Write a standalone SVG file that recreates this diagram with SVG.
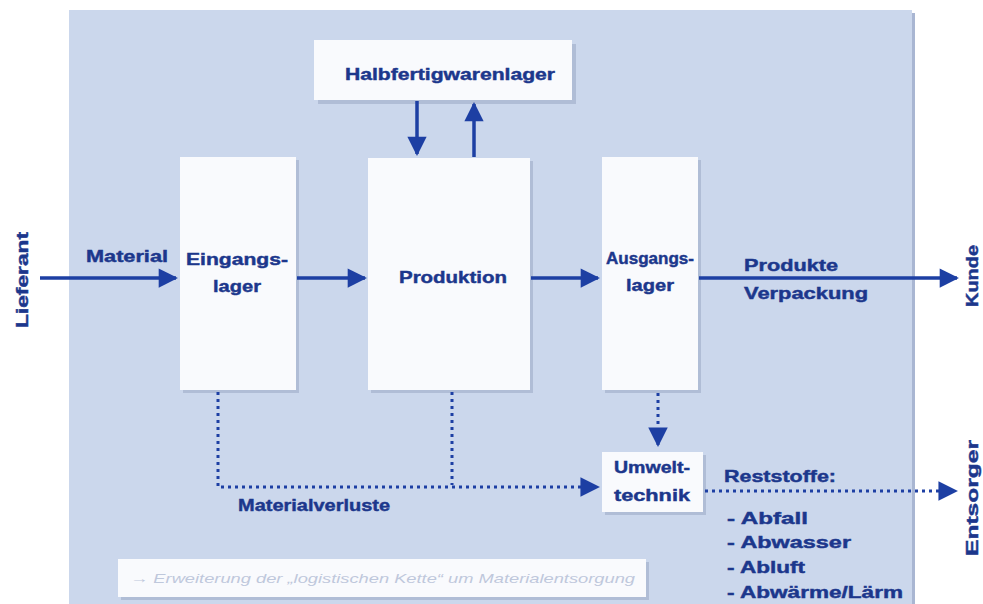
<svg xmlns="http://www.w3.org/2000/svg" width="983" height="604" viewBox="0 0 983 604">
  <defs>
    <style>
      .box { fill: #f9fafd; }
      .shadow { fill: #9aa8c4; opacity: 0.55; }
      .lbl { font-family: "Liberation Sans", Arial, sans-serif; font-weight: bold; font-size: 17px; fill: #1c378c; stroke: #1c378c; stroke-width: 0.45; }
      .flow { stroke: #1d3fa3; stroke-width: 3.5; fill: none; }
      .loss { stroke: #1d3fa3; stroke-width: 3; fill: none; stroke-dasharray: 3 4; }
      .note { font-family: "Liberation Sans", Arial, sans-serif; font-style: italic; font-size: 13px; fill: #bfc8dc; }
    </style>
    <marker id="head" viewBox="0 0 10 10" refX="9" refY="5" markerWidth="6" markerHeight="5.5" markerUnits="strokeWidth" orient="auto">
      <path d="M0,0 L10,5 L0,10 z" fill="#1d3fa3"/>
    </marker>
    <marker id="headDot" viewBox="0 0 10 10" refX="9" refY="5" markerWidth="7" markerHeight="6.5" markerUnits="strokeWidth" orient="auto">
      <path d="M0,0 L10,5 L0,10 z" fill="#1d3fa3"/>
    </marker>
  </defs>

  <!-- page background and the blue system panel -->
  <rect x="0" y="0" width="983" height="604" fill="#ffffff"/>
  <rect x="72" y="13" width="843" height="595" fill="#a9b6d2"/>
  <rect x="69" y="10" width="843" height="595" fill="#cbd7ec"/>

  <!-- outside parties -->
  <g id="lieferant">
    <text class="lbl" transform="translate(28,280) rotate(-90)" text-anchor="middle" textLength="96" lengthAdjust="spacingAndGlyphs">Lieferant</text>
  </g>
  <g id="kunde">
    <text class="lbl" transform="translate(978,276) rotate(-90)" text-anchor="middle" textLength="62" lengthAdjust="spacingAndGlyphs">Kunde</text>
  </g>
  <g id="entsorger">
    <text class="lbl" transform="translate(978,498) rotate(-90)" text-anchor="middle" textLength="116" lengthAdjust="spacingAndGlyphs">Entsorger</text>
  </g>

  <!-- storage and production nodes -->
  <g id="halbfertigwarenlager">
    <rect class="shadow" x="318" y="44" width="258" height="60"/>
    <rect class="box" x="314" y="40" width="258" height="60"/>
    <text class="lbl" x="450" y="80" text-anchor="middle" textLength="210" lengthAdjust="spacingAndGlyphs">Halbfertigwarenlager</text>
  </g>
  <g id="eingangslager">
    <rect class="shadow" x="183" y="160" width="116" height="233"/>
    <rect class="box" x="180" y="157" width="116" height="233"/>
    <text class="lbl" x="237" y="265" text-anchor="middle" textLength="102" lengthAdjust="spacingAndGlyphs">Eingangs-</text>
    <text class="lbl" x="237" y="292" text-anchor="middle" textLength="48" lengthAdjust="spacingAndGlyphs">lager</text>
  </g>
  <g id="produktion">
    <rect class="shadow" x="371" y="161" width="162" height="232"/>
    <rect class="box" x="368" y="158" width="162" height="232"/>
    <text class="lbl" x="453" y="283" text-anchor="middle" textLength="108" lengthAdjust="spacingAndGlyphs">Produktion</text>
  </g>
  <g id="ausgangslager">
    <rect class="shadow" x="605" y="160" width="96" height="233"/>
    <rect class="box" x="602" y="157" width="96" height="233"/>
    <text class="lbl" x="650" y="264" text-anchor="middle" textLength="88" lengthAdjust="spacingAndGlyphs">Ausgangs-</text>
    <text class="lbl" x="650" y="291" text-anchor="middle" textLength="48" lengthAdjust="spacingAndGlyphs">lager</text>
  </g>
  <g id="umwelttechnik">
    <rect class="shadow" x="605" y="455" width="101" height="60"/>
    <rect class="box" x="602" y="452" width="101" height="60"/>
    <text class="lbl" x="652" y="473" text-anchor="middle" textLength="76" lengthAdjust="spacingAndGlyphs">Umwelt-</text>
    <text class="lbl" x="652" y="501" text-anchor="middle" textLength="76" lengthAdjust="spacingAndGlyphs">technik</text>
  </g>

  <!-- material flows and losses -->
  <g id="connectors">
    <line class="flow" x1="40" y1="278" x2="176" y2="278" marker-end="url(#head)"/>
    <line class="flow" x1="297" y1="278" x2="365" y2="278" marker-end="url(#head)"/>
    <line class="flow" x1="531" y1="278" x2="598" y2="278" marker-end="url(#head)"/>
    <line class="flow" x1="699" y1="278" x2="957" y2="278" marker-end="url(#head)"/>
    <line class="flow" x1="417" y1="101" x2="417" y2="154" marker-end="url(#head)"/>
    <line class="flow" x1="474" y1="157" x2="474" y2="104" marker-end="url(#head)"/>

    <polyline class="loss" points="218,392 218,487 598,487" marker-end="url(#headDot)"/>
    <line class="loss" x1="452" y1="392" x2="452" y2="485"/>
    <line class="loss" x1="658" y1="393" x2="658" y2="445" marker-end="url(#headDot)"/>
    <line class="loss" x1="705" y1="491" x2="956" y2="491" marker-end="url(#headDot)"/>
  </g>

  <!-- flow labels -->
  <text class="lbl" x="86" y="262" textLength="82" lengthAdjust="spacingAndGlyphs">Material</text>
  <text class="lbl" x="744" y="271" textLength="94" lengthAdjust="spacingAndGlyphs">Produkte</text>
  <text class="lbl" x="744" y="299" textLength="124" lengthAdjust="spacingAndGlyphs">Verpackung</text>
  <text class="lbl" x="238" y="511" textLength="152" lengthAdjust="spacingAndGlyphs">Materialverluste</text>
  <text class="lbl" x="724" y="482" textLength="112" lengthAdjust="spacingAndGlyphs">Reststoffe:</text>
  <text class="lbl" x="727" y="524" textLength="81" lengthAdjust="spacingAndGlyphs">- Abfall</text>
  <text class="lbl" x="727" y="548" textLength="124" lengthAdjust="spacingAndGlyphs">- Abwasser</text>
  <text class="lbl" x="727" y="573" textLength="78" lengthAdjust="spacingAndGlyphs">- Abluft</text>
  <text class="lbl" x="727" y="598" textLength="176" lengthAdjust="spacingAndGlyphs">- Abwärme/Lärm</text>

  <!-- footnote -->
  <g id="hinweis">
    <rect class="shadow" x="121" y="562" width="528" height="38"/>
    <rect class="box" x="118" y="559" width="528" height="38"/>
    <text class="note" x="130" y="583" textLength="505" lengthAdjust="spacingAndGlyphs">→ Erweiterung der „logistischen Kette“ um Materialentsorgung</text>
  </g>
</svg>
